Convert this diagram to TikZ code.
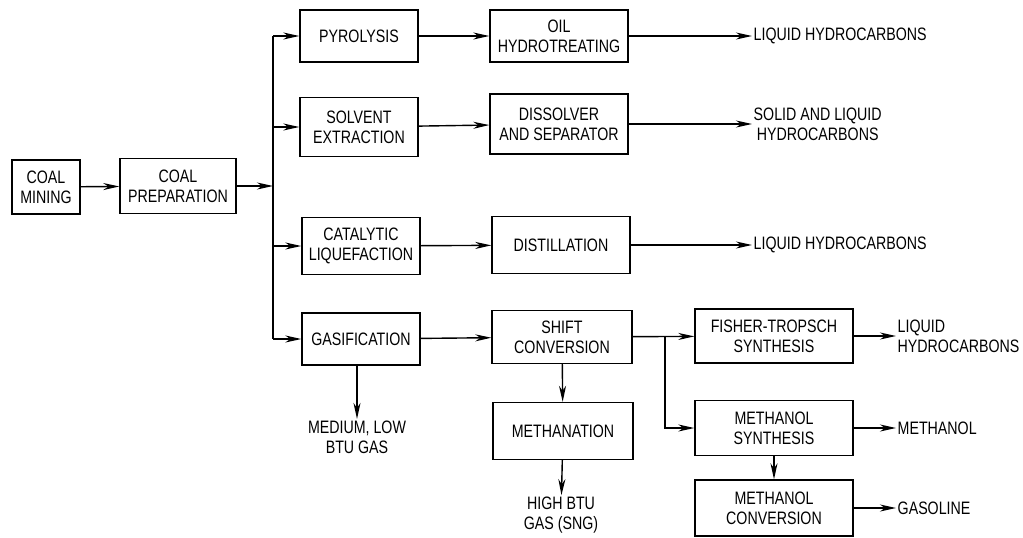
\documentclass[tikz,border=0pt]{standalone}
\usepackage{fontspec}
\setmainfont{Liberation Sans}[FakeStretch=0.79]
\usetikzlibrary{arrows.meta,positioning}

\begin{document}
\begin{tikzpicture}[x=1pt, y=-1pt, >={Stealth[length=16pt,width=7pt,inset=5pt]},
  every path/.style={line width=1.4pt},
  proc/.style={draw, line width=1.4pt, align=center, inner sep=1pt,
    font=\fontsize{18}{20}\selectfont},
  product/.style={inner sep=1pt, font=\fontsize{18}{20}\selectfont}]
  \useasboundingbox (0,0) rectangle (1023,538);
  % first stage
  \node[proc, minimum width=68pt, minimum height=54pt] (mining) at (46,187) {COAL\\MINING};
  \node[proc, minimum width=116pt, minimum height=55pt] (prep) at (178,186) {COAL\\PREPARATION};
  \coordinate (bt) at (273,36);
  \coordinate (bb) at (273,339);
  % process rows
  \node[proc, minimum width=118pt, minimum height=52pt] (pyro) at (359,36) {PYROLYSIS};
  \node[proc, minimum width=138pt, minimum height=52pt] (oil) at (559,36) {OIL\\HYDROTREATING};
  \node[proc, minimum width=118pt, minimum height=59pt] (solv) at (359,127) {SOLVENT\\EXTRACTION};
  \node[proc, minimum width=138pt, minimum height=60pt] (diss) at (559,124) {DISSOLVER\\AND SEPARATOR};
  \node[proc, minimum width=118pt, minimum height=57pt] (cat) at (361,246) {CATALYTIC\\LIQUEFACTION};
  \node[proc, minimum width=138pt, minimum height=57pt] (dist) at (561,245) {DISTILLATION};
  \node[proc, minimum width=118pt, minimum height=52pt] (gas) at (361,339) {GASIFICATION};
  \node[proc, minimum width=140pt, minimum height=53pt] (shift) at (562,337) {SHIFT\\CONVERSION};
  \node[proc, minimum width=140pt, minimum height=57pt] (meth) at (563,431) {METHANATION};
  \node[proc, minimum width=158pt, minimum height=54pt] (ft) at (774,336) {FISHER-TROPSCH\\SYNTHESIS};
  \node[proc, minimum width=158pt, minimum height=55pt] (msyn) at (774,428) {METHANOL\\SYNTHESIS};
  \node[proc, minimum width=158pt, minimum height=56pt] (mconv) at (774,508) {METHANOL\\CONVERSION};
  % products
  \node[product, anchor=west] (lh1) at (752,36) {LIQUID HYDROCARBONS};
  \node[product, anchor=west, align=center] (slh) at (752,124) {SOLID AND LIQUID\\HYDROCARBONS};
  \node[product, anchor=west] (lh3) at (752,245) {LIQUID HYDROCARBONS};
  \node[product, align=center] (medlow) at (357,437) {MEDIUM, LOW\\BTU GAS};
  \node[product, align=center] (high) at (561,515) {HIGH BTU\\GAS (SNG)};
  \node[product, anchor=west, align=left] (lh4) at (896,336) {LIQUID\\HYDROCARBONS};
  \node[product, anchor=west] (meoh) at (896,428) {METHANOL};
  \node[product, anchor=west] (gsl) at (896,508) {GASOLINE};
  % connectors
  \draw[->] (mining) -- (prep);
  \draw[->] (prep.east) -- (prep.east -| bt);
  \draw (bt) -- (bb);
  \draw[->] (bt) -- (pyro);
  \draw[->] (solv.west -| bt) -- (solv);
  \draw[->] (cat.west -| bt) -- (cat);
  \draw[->] (bb) -- (gas);
  \draw[->] (pyro) -- (oil);
  \draw[->] (solv) -- (diss);
  \draw[->] (cat) -- (dist);
  \draw[->] (gas) -- (shift);
  \draw[->] (oil) -- (lh1);
  \draw[->] (diss) -- (slh);
  \draw[->] (dist) -- (lh3);
  \draw[->] (gas.south -| medlow) -- (medlow);
  \draw[->] (shift) -- (meth);
  \draw[->] (meth) -- (high);
  \coordinate (br) at (665,337);
  \draw[->] (shift) -- (ft);
  \draw[->] (br) |- (msyn);
  \draw[->] (msyn) -- (mconv);
  \draw[->] (ft) -- (lh4);
  \draw[->] (msyn) -- (meoh);
  \draw[->] (mconv) -- (gsl);
\end{tikzpicture}
\end{document}
